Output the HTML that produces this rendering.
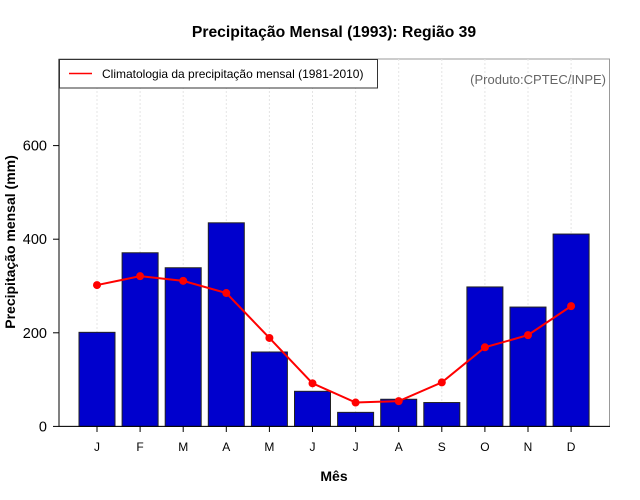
<!DOCTYPE html>
<html><head><meta charset="utf-8"><style>
body{margin:0;background:#fff;}
svg{display:block;font-family:"Liberation Sans",Arial,sans-serif;}
</style></head><body>
<svg width="640" height="500">
<text x="334" y="37" text-anchor="middle" font-size="15.7" font-weight="bold">Precipitação Mensal (1993): Região 39</text>
<rect x="59" y="59" width="550.5" height="367.4" fill="none" stroke="#999" stroke-width="1"/>
<g id="grid"></g>
<g id="bars"></g>
<g id="line"></g>
<line x1="59" y1="426.4" x2="610" y2="426.4" stroke="#000"/>
<line x1="59" y1="59" x2="59" y2="426.4" stroke="#000"/>
<g id="yticks"></g>
<g id="xticks"></g>
<text x="334" y="481" text-anchor="middle" font-size="14" font-weight="bold">Mês</text>
<text transform="translate(15,242) rotate(-90)" text-anchor="middle" font-size="14" font-weight="bold">Precipitação mensal (mm)</text>
<g>
<rect x="59.5" y="59.5" width="318" height="28.5" fill="#fff" stroke="#333"/>
<line x1="69" y1="73.5" x2="92" y2="73.5" stroke="red" stroke-width="1.5"/>
<text x="102" y="78" font-size="12">Climatologia da precipitação mensal (1981-2010)</text>
</g>
<text x="606" y="84" text-anchor="end" font-size="13" fill="#666">(Produto:CPTEC/INPE)</text>
</svg>
<script>
const months=["J","F","M","A","M","J","J","A","S","O","N","D"];
const precip=[201,371,339,435,159,75,30,58,51,298,255,411];
const clim=[302,321,311,285,189,92,51,54,94,169,195,257];
const yTicks=[0,200,400,600];
const NS="http://www.w3.org/2000/svg";
function x(i){return 97+i*43.1;}
function y(v){return 426.4-v*0.468;}
function mk(t,a,p){const e=document.createElementNS(NS,t);for(const k in a)e.setAttribute(k,a[k]);p.appendChild(e);return e;}
const G=document.getElementById('grid'),B=document.getElementById('bars'),L=document.getElementById('line'),YT=document.getElementById('yticks'),XT=document.getElementById('xticks');
months.forEach((m,i)=>{
  const g=mk('line',{x1:x(i),x2:x(i),y1:59,y2:426,stroke:'#e4e4e4','stroke-dasharray':'2,2'},G);
  
  
  const r=mk('rect',{x:x(i)-18,y:y(precip[i]),width:36,height:y(0)-y(precip[i]),fill:'#0000cd',stroke:'#222','stroke-width':1},B);
  
  
  const t=mk('line',{x1:x(i),x2:x(i),y1:426.4,y2:432,stroke:'#000'},XT);
  
  
  const tx=mk('text',{x:x(i),y:451,'text-anchor':'middle','font-size':12},XT);
  tx.textContent=m;
  
  
});
const pl=mk('polyline',{points:clim.map((v,i)=>x(i)+','+y(v)).join(' '),fill:'none',stroke:'red','stroke-width':2},L);


clim.forEach((v,i)=>{
  const c=mk('circle',{cx:x(i),cy:y(v),r:4,fill:'red'},L);
  
  
});
yTicks.forEach(v=>{
  const t=mk('line',{x1:53,x2:59,y1:y(v),y2:y(v),stroke:'#000'},YT);
  
  
  const tx=mk('text',{x:47,y:y(v)+5,'text-anchor':'end','font-size':14.5},YT);
  tx.textContent=v;
  
  
});
</script>
</body></html>
